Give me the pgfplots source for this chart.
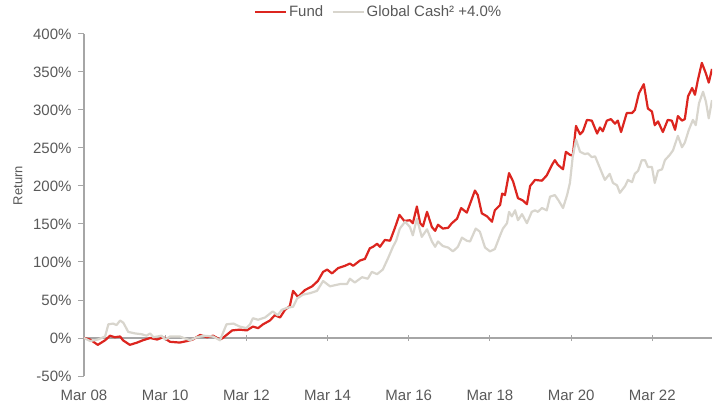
\documentclass[border=0pt]{standalone}
\usepackage{pgfplots}
\pgfplotsset{compat=1.18}
\usepackage{pgfplotstable}
\usepackage{fontspec}
\setmainfont{Liberation Sans}
\definecolor{fundred}{RGB}{220,37,31}
\definecolor{cashgray}{RGB}{216,213,205}
\definecolor{axgray}{RGB}{166,166,166}
\definecolor{txtgray}{RGB}{89,89,89}

\pgfplotstableread{
t v
0 0
0.15 -2
0.34 -9
0.52 -3
0.64 3
0.76 1
0.89 2
0.96 -3
1.13 -9
1.31 -6
1.45 -3
1.63 0
1.80 -2
1.95 1
2.12 -5
2.36 -6
2.54 -4
2.68 -2
2.86 4
3.03 1
3.18 3
3.35 -2
3.42 0
3.65 10
3.84 11
4.01 10
4.16 15
4.29 13
4.41 18
4.58 23
4.70 30
4.83 27
4.95 37
5.07 42
5.15 62
5.27 54
5.44 63
5.62 68
5.76 75
5.89 87
5.99 90
6.11 85
6.26 92
6.43 95
6.55 98
6.63 95
6.80 102
6.92 104
7.04 118
7.12 120
7.22 124
7.29 120
7.41 129
7.54 128
7.66 145
7.77 162
7.89 154
8.03 155
8.10 151
8.20 173
8.28 151
8.35 147
8.45 166
8.57 146
8.65 141
8.72 149
8.84 144
8.97 145
9.06 151
9.19 157
9.29 171
9.43 165
9.63 194
9.70 188
9.80 164
9.93 160
10.05 153
10.12 168
10.25 175
10.30 190
10.37 188
10.47 217
10.57 206
10.69 184
10.81 181
10.91 176
10.99 200
11.11 208
11.28 207
11.40 214
11.53 228
11.60 234
11.67 228
11.80 222
11.87 245
11.97 241
12.04 240
12.12 279
12.22 268
12.29 272
12.39 287
12.51 286
12.64 269
12.71 277
12.78 272
12.88 286
12.98 288
13.08 282
13.15 286
13.23 271
13.37 296
13.50 296
13.57 300
13.67 322
13.79 334
13.89 302
13.99 298
14.06 280
14.14 285
14.26 271
14.38 287
14.48 286
14.56 274
14.63 292
14.73 286
14.80 288
14.88 318
14.98 329
15.05 320
15.12 339
15.22 362
15.32 348
15.39 336
15.47 354
}\fund

\pgfplotstableread{
t v
0 0
0.15 -4
0.34 -2
0.52 2
0.60 18
0.72 19
0.80 17
0.89 23
0.97 20
1.09 8
1.26 6
1.42 5
1.54 3
1.63 6
1.71 1
1.91 3
2.00 -2
2.12 2
2.36 2
2.61 -3
2.78 1
2.94 3
3.18 2
3.35 -3
3.51 18
3.68 19
3.84 15
4.00 13
4.09 18
4.16 26
4.29 24
4.46 27
4.65 35
4.77 30
4.87 37
5.02 40
5.15 41
5.25 52
5.39 57
5.57 59
5.74 62
5.89 75
6.06 68
6.31 71
6.48 71
6.55 78
6.67 73
6.85 80
6.99 78
7.09 87
7.22 84
7.36 90
7.49 105
7.61 120
7.69 128
7.78 144
7.91 153
8.03 146
8.10 135
8.20 157
8.32 133
8.45 143
8.57 127
8.65 120
8.72 127
8.84 121
8.97 119
9.09 114
9.21 120
9.31 132
9.43 128
9.51 127
9.65 144
9.75 140
9.88 119
10.00 114
10.12 117
10.25 135
10.32 144
10.42 151
10.47 166
10.54 160
10.62 168
10.69 155
10.79 163
10.91 151
11.03 166
11.11 168
11.18 166
11.28 171
11.40 168
11.48 186
11.60 188
11.69 181
11.80 171
11.90 188
11.97 204
12.04 239
12.12 261
12.22 245
12.34 242
12.41 243
12.51 238
12.59 239
12.66 230
12.76 217
12.83 208
12.95 216
13.03 204
13.13 201
13.20 191
13.33 200
13.40 208
13.50 205
13.57 216
13.65 220
13.74 234
13.82 234
13.89 225
13.99 225
14.06 204
14.14 220
14.24 222
14.31 234
14.43 241
14.51 247
14.63 266
14.73 251
14.80 257
14.90 274
15.00 287
15.07 280
15.15 309
15.25 324
15.32 311
15.39 289
15.47 313
}\cash

\begin{document}
\begin{tikzpicture}
\begin{axis}[
  scale only axis,
  width=628bp, height=342bp,
  xmin=0, xmax=15.47,
  ymin=-50, ymax=400,
  axis x line=middle,
  axis y line=left,
  axis line style={-, draw=axgray, line width=1.2bp},
  hide obscured x ticks=false,
  hide obscured y ticks=false,
  xtick={0,2,4,6,8,10,12,14},
  xticklabels={Mar 08,Mar 10,Mar 12,Mar 14,Mar 16,Mar 18,Mar 20,Mar 22},
  ytick={-50,0,50,100,150,200,250,300,350,400},
  yticklabels={-50\%,0\%,50\%,100\%,150\%,200\%,250\%,300\%,350\%,400\%},
  xtick align=center,
  ytick align=outside,
  major tick length=6bp,
  tick style={draw=axgray, line width=1bp},
  xticklabel shift=46bp,
  yticklabel style={xshift=-3bp},
  ticklabel style={font=\fontsize{15bp}{18bp}\selectfont, text=txtgray},
  ylabel={Return},
  ylabel style={at={(axis description cs:-0.105,0.557)}, anchor=center, font=\fontsize{13bp}{15bp}\selectfont, text=txtgray},
  legend columns=2,
  legend style={draw=none, fill=none, inner sep=0pt, at={(0.2704,1.064)}, anchor=west,
    font=\fontsize{15bp}{18bp}\selectfont, text=txtgray,
    nodes={inner xsep=1.5bp},
    /tikz/every odd column/.append style={column sep=0bp},
    /tikz/every even column/.append style={column sep=7bp}},
  legend image code/.code={\draw[#1, line width=2.5bp] (0bp,0bp) -- (31bp,0bp);},
]
\addplot[fundred, line width=2.2bp, line join=round] table[x=t,y=v] {\fund};
\addlegendentry{Fund}
\addplot[cashgray, line width=2.2bp, line join=round] table[x=t,y=v] {\cash};
\addlegendentry{Global Cash² +4.0\%}
\end{axis}
\path ([xshift=-84bp,yshift=-29bp]current axis.south west) rectangle ([xshift=5bp,yshift=34bp]current axis.north east);
\end{tikzpicture}
\end{document}
